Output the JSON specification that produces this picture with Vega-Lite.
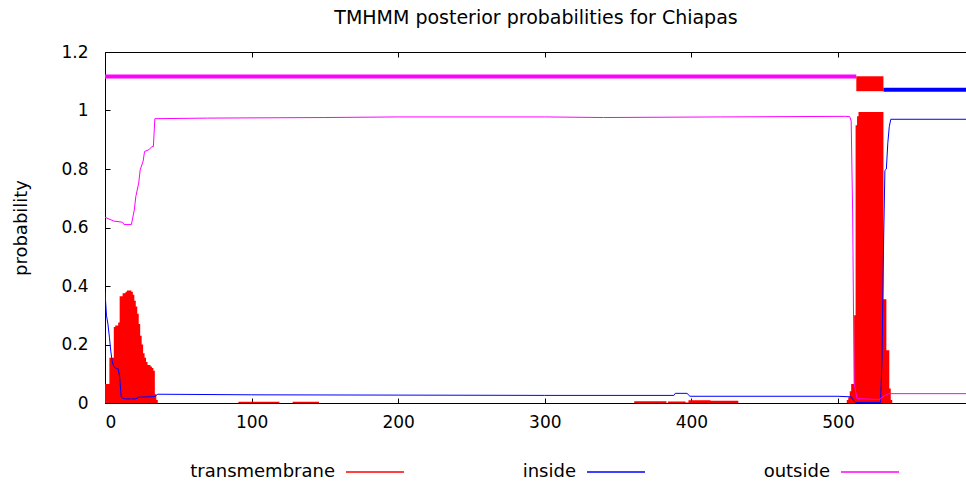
{
  "$schema": "https://vega.github.io/schema/vega-lite/v6.json",
  "width": 862,
  "height": 351,
  "autosize": "none",
  "padding": {"left": 105, "top": 52, "right": 0, "bottom": 80},
  "background": "white",
  "title": {"text": "TMHMM posterior probabilities for Chiapas", "font": "DejaVu Sans", "fontSize": 19, "fontWeight": "normal", "color": "black", "anchor": "middle", "offset": 15},
  "config": {
    "view": {"stroke": null},
    "axis": {"domainColor": "black", "tickColor": "black", "labelColor": "black", "labelFont": "DejaVu Sans", "labelFontSize": 17, "titleFont": "DejaVu Sans", "titleFontSize": 18, "titleFontWeight": "normal", "titleColor": "black", "grid": false, "tickSize": -5, "domainWidth": 1, "tickWidth": 1},
    "legend": {"orient": "none", "legendX": 240, "legendY": 390, "direction": "horizontal", "columns": 3, "columnPadding": 115, "symbolType": "stroke", "symbolSize": 3364, "symbolStrokeWidth": 1.5, "labelFont": "DejaVu Sans", "labelFontSize": 18, "labelColor": "black", "labelAlign": "right", "labelOffset": -70, "title": null}
  },
  "datasets": {
    "probs": [
      {"pos": 0, "series": "transmembrane", "prob": 0.065},
      {"pos": 1, "series": "transmembrane", "prob": 0.065},
      {"pos": 2, "series": "transmembrane", "prob": 0.065},
      {"pos": 3, "series": "transmembrane", "prob": 0.155},
      {"pos": 4, "series": "transmembrane", "prob": 0.155},
      {"pos": 5, "series": "transmembrane", "prob": 0.155},
      {"pos": 6, "series": "transmembrane", "prob": 0.26},
      {"pos": 7, "series": "transmembrane", "prob": 0.265},
      {"pos": 8, "series": "transmembrane", "prob": 0.265},
      {"pos": 9, "series": "transmembrane", "prob": 0.275},
      {"pos": 10, "series": "transmembrane", "prob": 0.365},
      {"pos": 11, "series": "transmembrane", "prob": 0.365},
      {"pos": 12, "series": "transmembrane", "prob": 0.375},
      {"pos": 13, "series": "transmembrane", "prob": 0.375},
      {"pos": 14, "series": "transmembrane", "prob": 0.38},
      {"pos": 15, "series": "transmembrane", "prob": 0.385},
      {"pos": 16, "series": "transmembrane", "prob": 0.385},
      {"pos": 17, "series": "transmembrane", "prob": 0.385},
      {"pos": 18, "series": "transmembrane", "prob": 0.38},
      {"pos": 19, "series": "transmembrane", "prob": 0.37},
      {"pos": 20, "series": "transmembrane", "prob": 0.35},
      {"pos": 21, "series": "transmembrane", "prob": 0.33},
      {"pos": 22, "series": "transmembrane", "prob": 0.305},
      {"pos": 23, "series": "transmembrane", "prob": 0.27},
      {"pos": 24, "series": "transmembrane", "prob": 0.23},
      {"pos": 25, "series": "transmembrane", "prob": 0.2},
      {"pos": 26, "series": "transmembrane", "prob": 0.17},
      {"pos": 27, "series": "transmembrane", "prob": 0.155},
      {"pos": 28, "series": "transmembrane", "prob": 0.14},
      {"pos": 29, "series": "transmembrane", "prob": 0.13},
      {"pos": 30, "series": "transmembrane", "prob": 0.13},
      {"pos": 31, "series": "transmembrane", "prob": 0.125},
      {"pos": 32, "series": "transmembrane", "prob": 0.12},
      {"pos": 33, "series": "transmembrane", "prob": 0.11},
      {"pos": 34, "series": "transmembrane", "prob": 0.03},
      {"pos": 35, "series": "transmembrane", "prob": 0.01},
      {"pos": 36, "series": "transmembrane", "prob": 0},
      {"pos": 90, "series": "transmembrane", "prob": 0},
      {"pos": 91, "series": "transmembrane", "prob": 0.004},
      {"pos": 118, "series": "transmembrane", "prob": 0.004},
      {"pos": 119, "series": "transmembrane", "prob": 0},
      {"pos": 127, "series": "transmembrane", "prob": 0},
      {"pos": 128, "series": "transmembrane", "prob": 0.004},
      {"pos": 145, "series": "transmembrane", "prob": 0.004},
      {"pos": 146, "series": "transmembrane", "prob": 0},
      {"pos": 360, "series": "transmembrane", "prob": 0},
      {"pos": 361, "series": "transmembrane", "prob": 0.006},
      {"pos": 382, "series": "transmembrane", "prob": 0.006},
      {"pos": 383, "series": "transmembrane", "prob": 0},
      {"pos": 384, "series": "transmembrane", "prob": 0.005},
      {"pos": 395, "series": "transmembrane", "prob": 0.005},
      {"pos": 396, "series": "transmembrane", "prob": 0.002},
      {"pos": 398, "series": "transmembrane", "prob": 0.009},
      {"pos": 412, "series": "transmembrane", "prob": 0.009},
      {"pos": 413, "series": "transmembrane", "prob": 0.008},
      {"pos": 431, "series": "transmembrane", "prob": 0.008},
      {"pos": 432, "series": "transmembrane", "prob": 0},
      {"pos": 505, "series": "transmembrane", "prob": 0},
      {"pos": 506, "series": "transmembrane", "prob": 0.01},
      {"pos": 507, "series": "transmembrane", "prob": 0.02},
      {"pos": 508, "series": "transmembrane", "prob": 0.04},
      {"pos": 509, "series": "transmembrane", "prob": 0.065},
      {"pos": 510, "series": "transmembrane", "prob": 0.065},
      {"pos": 511, "series": "transmembrane", "prob": 0.3},
      {"pos": 512, "series": "transmembrane", "prob": 0.95},
      {"pos": 513, "series": "transmembrane", "prob": 0.98},
      {"pos": 514, "series": "transmembrane", "prob": 0.995},
      {"pos": 530, "series": "transmembrane", "prob": 0.995},
      {"pos": 531, "series": "transmembrane", "prob": 0.355},
      {"pos": 532, "series": "transmembrane", "prob": 0.355},
      {"pos": 533, "series": "transmembrane", "prob": 0.18},
      {"pos": 534, "series": "transmembrane", "prob": 0.18},
      {"pos": 535, "series": "transmembrane", "prob": 0.05},
      {"pos": 536, "series": "transmembrane", "prob": 0.01},
      {"pos": 537, "series": "transmembrane", "prob": 0},
      {"pos": 588, "series": "transmembrane", "prob": 0},
      {"pos": 0, "series": "inside", "prob": 0.38},
      {"pos": 1, "series": "inside", "prob": 0.3},
      {"pos": 2, "series": "inside", "prob": 0.27},
      {"pos": 3, "series": "inside", "prob": 0.225},
      {"pos": 4, "series": "inside", "prob": 0.175},
      {"pos": 5, "series": "inside", "prob": 0.14},
      {"pos": 6, "series": "inside", "prob": 0.125},
      {"pos": 7, "series": "inside", "prob": 0.12},
      {"pos": 8, "series": "inside", "prob": 0.118},
      {"pos": 9, "series": "inside", "prob": 0.117},
      {"pos": 10, "series": "inside", "prob": 0.09},
      {"pos": 11, "series": "inside", "prob": 0.022},
      {"pos": 12, "series": "inside", "prob": 0.016},
      {"pos": 14, "series": "inside", "prob": 0.014},
      {"pos": 21, "series": "inside", "prob": 0.014},
      {"pos": 23, "series": "inside", "prob": 0.02},
      {"pos": 34, "series": "inside", "prob": 0.022},
      {"pos": 36, "series": "inside", "prob": 0.03},
      {"pos": 100, "series": "inside", "prob": 0.028},
      {"pos": 200, "series": "inside", "prob": 0.027},
      {"pos": 300, "series": "inside", "prob": 0.026},
      {"pos": 388, "series": "inside", "prob": 0.026},
      {"pos": 389, "series": "inside", "prob": 0.033},
      {"pos": 397, "series": "inside", "prob": 0.033},
      {"pos": 399, "series": "inside", "prob": 0.023},
      {"pos": 500, "series": "inside", "prob": 0.023},
      {"pos": 509, "series": "inside", "prob": 0.021},
      {"pos": 511, "series": "inside", "prob": 0.006},
      {"pos": 512, "series": "inside", "prob": 0.002},
      {"pos": 529, "series": "inside", "prob": 0.002},
      {"pos": 530, "series": "inside", "prob": 0.145},
      {"pos": 531, "series": "inside", "prob": 0.52},
      {"pos": 532, "series": "inside", "prob": 0.795},
      {"pos": 533, "series": "inside", "prob": 0.8},
      {"pos": 534, "series": "inside", "prob": 0.89},
      {"pos": 535, "series": "inside", "prob": 0.945},
      {"pos": 536, "series": "inside", "prob": 0.97},
      {"pos": 588, "series": "inside", "prob": 0.97},
      {"pos": 0, "series": "outside", "prob": 0.635},
      {"pos": 6, "series": "outside", "prob": 0.622},
      {"pos": 12, "series": "outside", "prob": 0.618},
      {"pos": 13, "series": "outside", "prob": 0.61},
      {"pos": 18, "series": "outside", "prob": 0.61},
      {"pos": 20, "series": "outside", "prob": 0.66},
      {"pos": 21, "series": "outside", "prob": 0.705},
      {"pos": 23, "series": "outside", "prob": 0.752},
      {"pos": 24, "series": "outside", "prob": 0.797},
      {"pos": 26, "series": "outside", "prob": 0.827},
      {"pos": 27, "series": "outside", "prob": 0.86},
      {"pos": 30, "series": "outside", "prob": 0.866},
      {"pos": 32, "series": "outside", "prob": 0.877},
      {"pos": 33, "series": "outside", "prob": 0.877},
      {"pos": 34, "series": "outside", "prob": 0.972},
      {"pos": 70, "series": "outside", "prob": 0.974},
      {"pos": 150, "series": "outside", "prob": 0.976},
      {"pos": 200, "series": "outside", "prob": 0.978},
      {"pos": 300, "series": "outside", "prob": 0.978},
      {"pos": 340, "series": "outside", "prob": 0.976},
      {"pos": 380, "series": "outside", "prob": 0.977},
      {"pos": 420, "series": "outside", "prob": 0.978},
      {"pos": 505, "series": "outside", "prob": 0.98},
      {"pos": 508, "series": "outside", "prob": 0.979},
      {"pos": 509, "series": "outside", "prob": 0.964},
      {"pos": 510, "series": "outside", "prob": 0.65},
      {"pos": 511, "series": "outside", "prob": 0.068},
      {"pos": 513, "series": "outside", "prob": 0.015},
      {"pos": 528, "series": "outside", "prob": 0.012},
      {"pos": 530, "series": "outside", "prob": 0.02},
      {"pos": 532, "series": "outside", "prob": 0.026},
      {"pos": 535, "series": "outside", "prob": 0.032},
      {"pos": 588, "series": "outside", "prob": 0.032}
    ],
    "bars": [
      {"series": "outside", "start": 0, "end": 512.5, "lo": 1.109, "hi": 1.123},
      {"series": "transmembrane", "start": 512.5, "end": 531, "lo": 1.066, "hi": 1.117},
      {"series": "inside", "start": 531, "end": 588, "lo": 1.064, "hi": 1.078}
    ]
  },
  "resolve": {"axis": {"x": "independent"}},
  "layer": [
    {
      "data": {"name": "probs"},
      "transform": [{"filter": "datum.series === 'transmembrane'"}],
      "mark": {"type": "area", "interpolate": "step-after", "opacity": 1, "clip": true},
      "encoding": {
        "x": {"field": "pos", "type": "quantitative", "scale": {"domain": [0, 588], "nice": false, "zero": false}, "axis": {"orient": "bottom", "values": [0, 100, 200, 300, 400, 500], "title": null, "labelPadding": 16, "format": "d"}},
        "y": {"field": "prob", "type": "quantitative", "scale": {"domain": [0, 1.2], "nice": false}, "axis": {"values": [0, 0.2, 0.4, 0.6, 0.8, 1, 1.2], "format": ".1~f", "title": "probability", "labelPadding": 22, "titlePadding": 30}},
        "color": {"field": "series", "type": "nominal", "scale": {"domain": ["transmembrane", "inside", "outside"], "range": ["#ff0000", "#0000ff", "#ff00ff"]}, "legend": {"encode": {"symbols": {"update": {"stroke": {"scale": "color", "field": "value"}, "strokeWidth": {"value": 1.5}}}}}}
      }
    },
    {
      "data": {"name": "probs"},
      "transform": [{"filter": "datum.series !== 'transmembrane'"}],
      "mark": {"type": "line", "strokeWidth": 1, "clip": true},
      "encoding": {
        "x": {"field": "pos", "type": "quantitative", "axis": null},
        "y": {"field": "prob", "type": "quantitative"},
        "color": {"field": "series", "type": "nominal"}
      }
    },
    {
      "data": {"name": "bars"},
      "mark": {"type": "rect"},
      "encoding": {
        "x": {"field": "start", "type": "quantitative", "axis": {"orient": "top", "labels": false, "values": [0, 100, 200, 300, 400, 500], "title": null}},
        "x2": {"field": "end"},
        "y": {"field": "lo", "type": "quantitative"},
        "y2": {"field": "hi"},
        "color": {"field": "series", "type": "nominal"}
      }
    }
  ]
}
